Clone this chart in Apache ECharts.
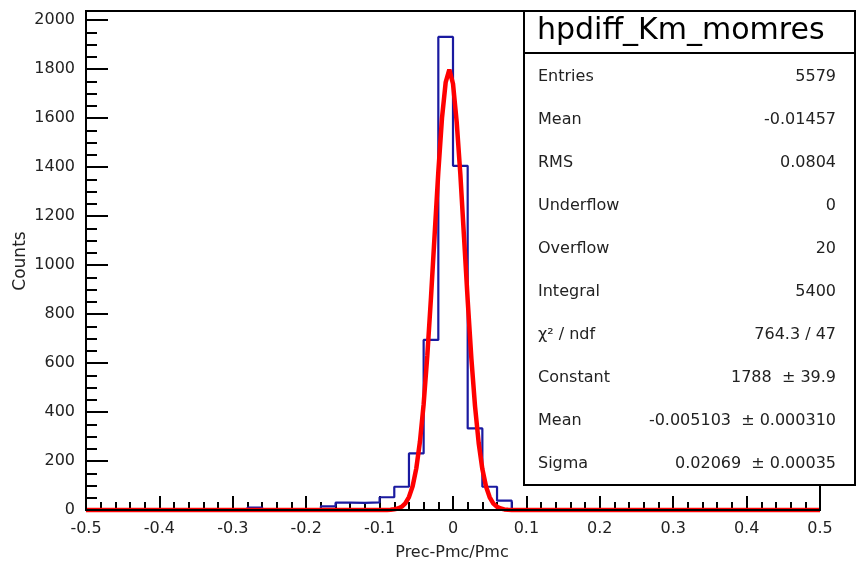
<!DOCTYPE html>
<html><head><meta charset="utf-8">
<script src="https://cdn.jsdelivr.net/npm/echarts@6/dist/echarts.min.js"></script>
<style>html,body{margin:0;padding:0;background:#fff}#c{width:857px;height:561px}</style>
</head><body><div id="c"></div>
<script>
// Histogram: 50 bins of width 0.02 from -0.5 to 0.5 (counts)
const histMin = -0.5;
const binWidth = 0.02;
const binCounts = [
  0,0,0,0,0, 0,0,0,0,0,
  0,10,0,0,0, 0,15,30,29,31,
  52,95,231,694,1931, 1405,333,95,38,0,
  0,0,0,0,0, 0,0,0,0,0,
  0,0,0,0,0, 0,0,0,0,0
];
// Fitted gaussian curve
const fitX = [-0.5,-0.09,-0.085,-0.08,-0.075,-0.07,-0.065,-0.06,-0.055,-0.05,-0.045,-0.04,-0.035,-0.03,-0.025,-0.02,-0.015,-0.01,-0.005,0,0.005,0.01,0.015,0.02,0.025,0.03,0.035,0.04,0.045,0.05,0.055,0.06,0.065,0.07,0.075,0.08,0.5];
const fitY = [0,0,1,3,6,13,27,53,97,170,280,432,630,867,1125,1380,1600,1745,1798,1740,1585,1371,1115,857,620,424,273,167,96,52,26,13,6,2.5,1,0,0];
// Stat box
const statTitle = 'hpdiff_Km_momres';
const statLabels = ['Entries','Mean','RMS','Underflow','Overflow','Integral','\u03c7\u00b2 / ndf','Constant','Mean','Sigma'];
const statValues = ['5579','-0.01457','0.0804','0','20','5400','764.3 / 47','1788  \u00b1 39.9','-0.005103  \u00b1 0.000310','0.02069  \u00b1 0.00035'];
const xTitle = 'Prec-Pmc/Pmc';
const yTitle = 'Counts';

const FONT = 'DejaVu Sans';
const histData = binCounts.map((c, i) => [histMin + i * binWidth, c]);
histData.push([histMin + binCounts.length * binWidth, binCounts[binCounts.length - 1]]);
const fitData = fitX.map((x, i) => [x, fitY[i]]);

const G = {left: 86, right: 820, top: 20, bottom: 510, frameTop: 11};
const graphics = [
  {type:'rect', shape:{x:G.left, y:G.frameTop, width:G.right-G.left, height:G.bottom-G.frameTop},
   style:{fill:'none', stroke:'#000', lineWidth:2}, z:50},
  {type:'rect', shape:{x:524, y:11, width:331, height:474},
   style:{fill:'#fff', stroke:'#000', lineWidth:2}, z:60},
  {type:'line', shape:{x1:524, y1:53, x2:855, y2:53}, style:{stroke:'#000', lineWidth:2}, z:61},
  {type:'text', z:62,
   style:{text: statTitle, x:537, y:31, align:'left', verticalAlign:'middle', font: '30px "' + FONT + '"', fill:'#000'}},
  {type:'text', style:{text:xTitle, x:452, y:553, align:'center', verticalAlign:'middle', font:'16px "'+FONT+'"', fill:'#222'}, z:62},
  {type:'text', style:{text:yTitle, x:0, y:0, align:'center', verticalAlign:'middle', font:'17px "'+FONT+'"', fill:'#222'},
   x:21, y:261, rotation: Math.PI/2, z:62}
];
statLabels.forEach((lab, i) => {
  const y = 77 + 43 * i;
  graphics.push({type:'text', z:62, style:{text:lab, x:538, y:y, align:'left', verticalAlign:'middle', font:'16px "'+FONT+'"', fill:'#222'}});
  graphics.push({type:'text', z:62, style:{text:statValues[i], x:836, y:y, align:'right', verticalAlign:'middle', font:'16px "'+FONT+'"', fill:'#222'}});
});

const chart = echarts.init(document.getElementById('c'), null, {renderer:'canvas'});
chart.setOption({
  animation: false,
  backgroundColor: '#fff',
  grid: {left: G.left, right: 857 - G.right, top: G.top, bottom: 561 - G.bottom, containLabel:false},
  xAxis: {
    type:'value', min:-0.5, max:0.5, interval:0.1,
    axisLine:{onZero:false, lineStyle:{color:'#000', width:2}},
    axisTick:{inside:true, length:14, lineStyle:{color:'#000', width:2}},
    minorTick:{show:true, splitNumber:5, length:8, lineStyle:{color:'#000', width:2}},
    splitLine:{show:false},
    axisLabel:{margin:11, color:'#222', fontFamily:FONT, fontSize:16,
      formatter: v => Math.abs(v) < 1e-9 ? '0' : String(+v.toFixed(1))}
  },
  yAxis: {
    type:'value', min:0, max:2000, interval:200,
    axisLine:{show:true, onZero:false, lineStyle:{color:'#000', width:2}},
    axisTick:{show:true, inside:true, length:22, lineStyle:{color:'#000', width:2}},
    minorTick:{show:true, splitNumber:4, length:11, lineStyle:{color:'#000', width:2}},
    splitLine:{show:false},
    axisLabel:{margin:11, color:'#222', fontFamily:FONT, fontSize:16, formatter: v => String(v)}
  },
  series: [
    {type:'line', data: histData, step:'end', showSymbol:false, clip:false,
     lineStyle:{color:'#1a1aa0', width:2.2}, z:3},
    {type:'line', data: fitData, showSymbol:false, clip:false,
     lineStyle:{color:'#ff0000', width:4.5}, z:4}
  ],
  graphic: graphics
});
</script>
</body></html>
